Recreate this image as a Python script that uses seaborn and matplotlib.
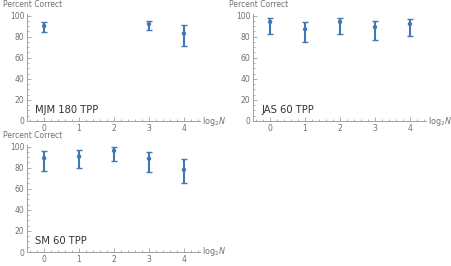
import numpy as np
import pandas as pd
import matplotlib
matplotlib.use("Agg")
import matplotlib.pyplot as plt
import seaborn as sns
from matplotlib.ticker import MultipleLocator

# dades llegides de la figura -------------------------------------------
log2n = [0, 1, 2, 3, 4]

mjm_mean = [90, np.nan, np.nan, 92, 83]
mjm_low = [84.5, np.nan, np.nan, 86, 71]
mjm_high = [94, np.nan, np.nan, 95, 91]

jas_mean = [94, 87, 94, 89, 92]
jas_low = [83, 75, 83, 77, 81]
jas_high = [98, 94, 98, 95, 97]

sm_mean = [89, 90.5, 96, 88.5, 78]
sm_low = [77, 80, 86, 76, 65]
sm_high = [95.5, 97, 99.5, 95, 88]

panel_labels = ["MJM 180 TPP", "JAS 60 TPP", "SM 60 TPP"]

sns.set_style("ticks")
plt.rcParams["font.family"] = ["DejaVu Sans"]

BLUE = "#3f78b5"
AXC = "#a0a0a0"
TXT = "#707070"

fig = plt.figure(figsize=(4.52, 2.66), dpi=100)
pos = [
    [27 / 452, 1 - 121 / 266, 173 / 452, 107 / 266],
    [253 / 452, 1 - 121 / 266, 173 / 452, 107 / 266],
    [27 / 452, 1 - 252 / 266, 173 / 452, 107 / 266],
]
series = [
    (mjm_mean, mjm_low, mjm_high),
    (jas_mean, jas_low, jas_high),
    (sm_mean, sm_low, sm_high),
]

for p, (m, lo, hi), lab in zip(pos, series, panel_labels):
    ax = fig.add_axes(p)
    df = pd.DataFrame({"x": log2n, "y": m, "lo": lo, "hi": hi}).dropna()
    ax.errorbar(df["x"], df["y"],
                yerr=[df["y"] - df["lo"], df["hi"] - df["y"]],
                fmt="none", ecolor=BLUE, elinewidth=1.5,
                capsize=2.2, capthick=1.0)
    sns.scatterplot(data=df, x="x", y="y", ax=ax, color=BLUE,
                    s=10, edgecolor="none", zorder=3)

    ax.set_xlim(-0.49, 4.46)
    ax.set_ylim(0, 101.5)
    ax.set_xlabel("")
    ax.set_ylabel("")
    ax.xaxis.set_major_locator(MultipleLocator(1))
    ax.xaxis.set_minor_locator(MultipleLocator(0.2))
    ax.yaxis.set_major_locator(MultipleLocator(20))
    ax.yaxis.set_minor_locator(MultipleLocator(5))
    ax.tick_params(which="both", direction="in", colors=AXC,
                   labelcolor=TXT, labelsize=5.5, width=0.6)
    ax.tick_params(which="major", length=3, pad=2)
    ax.tick_params(which="minor", length=1.6)
    for s in ["top", "right"]:
        ax.spines[s].set_visible(False)
    for s in ["left", "bottom"]:
        ax.spines[s].set_color(AXC)
        ax.spines[s].set_linewidth(0.7)

    ax.text(-0.26, 8, lab, fontsize=7.2, color="#333333", va="baseline")
    ax.annotate("Percent Correct", xy=(-0.14, 1.085), xycoords="axes fraction",
                ha="left", va="center", fontsize=5.5, color=TXT)
    ax.annotate(r"$\mathrm{log}_2 N$", xy=(1.01, 0), xycoords="axes fraction",
                ha="left", va="center", fontsize=5.8, color=TXT)

fig.savefig("out.png", dpi=100)
